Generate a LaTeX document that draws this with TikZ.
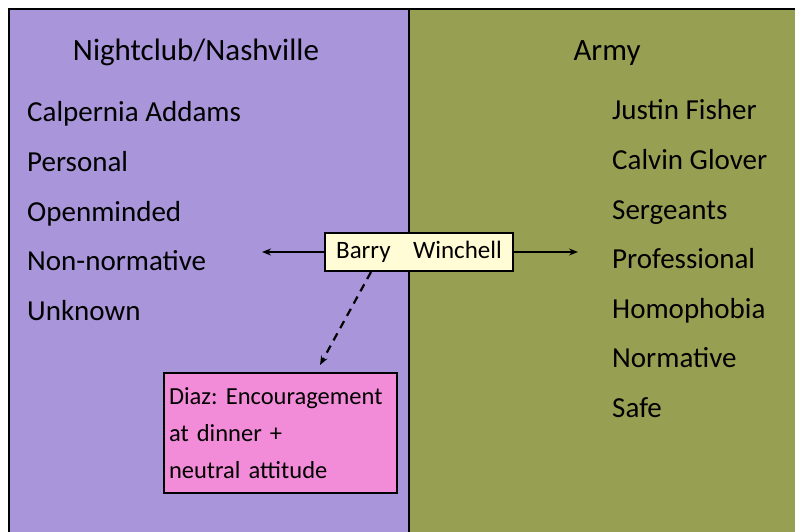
\documentclass[tikz,border=0pt]{standalone}
\usepackage{fontspec}
\setmainfont{Carlito}
\usetikzlibrary{arrows.meta}
\definecolor{clubpurple}{RGB}{168,149,218}
\definecolor{armygreen}{RGB}{151,160,82}
\definecolor{notepink}{RGB}{242,140,216}
\definecolor{namecream}{RGB}{255,252,214}
\begin{document}
\begin{tikzpicture}[x=1pt,y=-1pt,
  heading/.style={anchor=base,font=\fontsize{31}{36}\selectfont},
  item/.style={anchor=base west,inner sep=0pt,font=\fontsize{29}{34}\selectfont},
  namebox/.style={draw,line width=2pt,fill=namecream,minimum width=188pt,minimum height=38pt,font=\fontsize{25}{28}\selectfont},
  notebox/.style={draw,line width=2pt,fill=notepink,anchor=north west,minimum height=120pt,text width=223pt,inner xsep=5pt,align=left,font=\fontsize{24.5}{37}\selectfont\frenchspacing},
  link/.style={line width=1.8pt,-{Stealth[length=9pt,width=7pt]}}]
\useasboundingbox (0,0) rectangle (795,532);
\clip (0,0) rectangle (795,532);
% the two worlds
\filldraw[fill=clubpurple,line width=2.5pt] (9,9) rectangle (409,545);
\filldraw[fill=armygreen,line width=2.5pt] (409,9) rectangle (805,545);
\node[heading] (club) at (196,61) {Nightclub/Nashville};
\node[heading] (army) at (607,61) {Army};
% what belongs to each side
\foreach \t [count=\i] in {Calpernia Addams,Personal,Openminded,Non-normative,Unknown}
  \node[item] (c\i) at (27,72.5+49.5*\i) {\t};
\foreach \t [count=\i] in {Justin Fisher,Calvin Glover,Sergeants,Professional,Homophobia,Normative,Safe}
  \node[item] (a\i) at (612,70.5+49.5*\i) {\t};
% Barry in the middle
\node[namebox] (bw) at (419,252) {Barry\hspace{0.9em}Winchell};
\coordinate (lend) at (262,252);
\coordinate (rend) at (578,252);
\draw[link] (bw.west) -- (lend);
\draw[link] (bw.east) -- (rend);
\node[notebox] (diaz) at (163,372) {Diaz: Encouragement\\at dinner +\\neutral attitude};
\draw[link,line width=2.2pt,dash pattern=on 8pt off 6pt] ([xshift=47pt]bw.south west) -- ([xshift=157pt,yshift=7pt]diaz.north west);
\end{tikzpicture}
\end{document}
